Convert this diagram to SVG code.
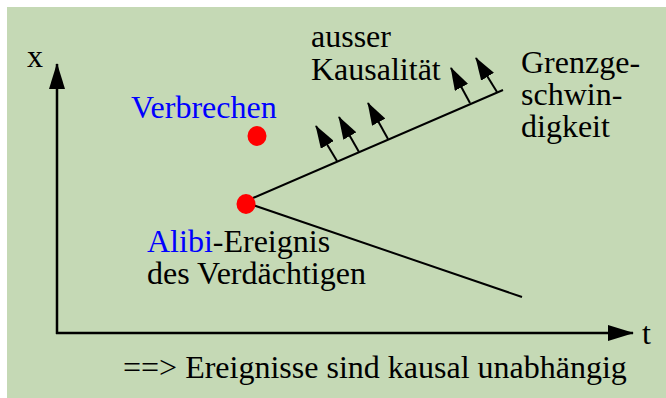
<svg xmlns="http://www.w3.org/2000/svg" width="666" height="398" viewBox="0 0 666 398">
  <defs>
    <marker id="axisHead" viewBox="0 0 26 16" markerWidth="26" markerHeight="16" refX="25" refY="8" orient="auto" markerUnits="userSpaceOnUse">
      <path d="M0,0 L26,8 L0,16 Z" fill="#000"/>
    </marker>
    <marker id="head" viewBox="0 0 23 15" markerWidth="23" markerHeight="15" refX="22" refY="7.5" orient="auto" markerUnits="userSpaceOnUse">
      <path d="M0,0 L23,7.5 L0,15 Z" fill="#000"/>
    </marker>
    <style>
      text { font-family: "Liberation Serif", "Times New Roman", serif; font-size: 32px; fill: #000; }
      .blue { fill: #0000ff; }
      .axis { stroke: #000; stroke-width: 2.5; fill: none; }
      .cone { stroke: #000; stroke-width: 2; fill: none; }
      .small { stroke: #000; stroke-width: 2; fill: none; marker-end: url(#head); }
      .dot { fill: #ff0000; }
    </style>
  </defs>
  <rect x="7" y="7" width="659" height="391" fill="#c5d9b5"/>

  <g id="connectors">
    <line class="axis" x1="57" y1="334" x2="57" y2="64" marker-end="url(#axisHead)"/>
    <line class="axis" x1="56" y1="333" x2="633" y2="333" marker-end="url(#axisHead)"/>
    <line class="cone" x1="253" y1="198" x2="503" y2="90"/>
    <line class="cone" x1="253" y1="205" x2="522" y2="297"/>
    <line class="small" x1="337" y1="161" x2="316" y2="126"/>
    <line class="small" x1="359" y1="152" x2="339" y2="117"/>
    <line class="small" x1="388" y1="139" x2="368" y2="103"/>
    <line class="small" x1="470" y1="103" x2="451" y2="68"/>
    <line class="small" x1="497" y1="92" x2="476" y2="58"/>
  </g>

  <g id="axis-x-label"><text x="27" y="67">x</text></g>
  <g id="axis-t-label"><text x="642" y="344">t</text></g>

  <g id="verbrechen">
    <text class="blue" x="131" y="118">Verbrechen</text>
    <ellipse class="dot" cx="257" cy="136" rx="9.5" ry="10"/>
  </g>

  <g id="alibi">
    <ellipse class="dot" cx="246" cy="204" rx="9.5" ry="10"/>
    <text x="147" y="252"><tspan class="blue">Alibi</tspan>-Ereignis</text>
    <text x="147" y="284">des Verdächtigen</text>
  </g>

  <g id="ausser-kausalitaet">
    <text x="311" y="47">ausser</text>
    <text x="311" y="80">Kausalität</text>
  </g>

  <g id="grenzgeschwindigkeit">
    <text x="521" y="73">Grenzge-</text>
    <text x="521" y="105">schwin-</text>
    <text x="521" y="137">digkeit</text>
  </g>

  <g id="conclusion">
    <text x="123" y="378">==&gt; Ereignisse sind kausal unabhängig</text>
  </g>
</svg>
